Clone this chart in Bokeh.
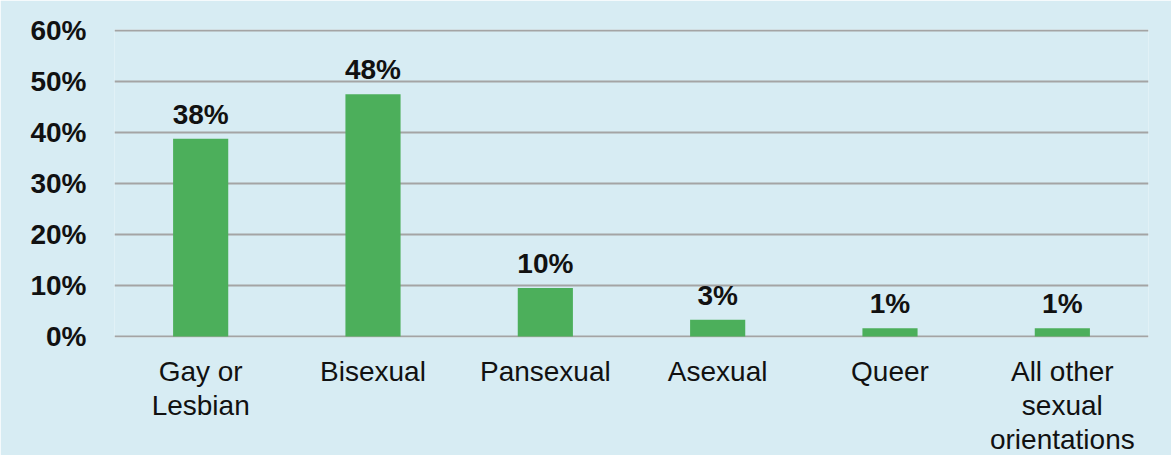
from bokeh.plotting import figure
from bokeh.models import FixedTicker, PrintfTickFormatter, LabelSet, ColumnDataSource, Range1d
from bokeh.core.properties import value
from bokeh.embed import file_html
from bokeh.resources import INLINE

categories = ["Gay or\nLesbian", "Bisexual", "Pansexual", "Asexual", "Queer", "All other\nsexual\norientations"]
values = [38.8, 47.5, 9.5, 3.3, 1.6, 1.6]
value_labels = ["38%", "48%", "10%", "3%", "1%", "1%"]
y_ticks = [0, 10, 20, 30, 40, 50, 60]

BG = "#d7ecf3"
GREEN = "#4caf5b"
GRID = "#a4a4a4"
FONT = "Liberation Sans"

src = ColumnDataSource(dict(cat=categories, val=values, lab=value_labels))

p = figure(x_range=categories, y_range=Range1d(-0.2, 60.2),
           frame_width=1034, frame_height=308,
           min_border_left=114, min_border_right=23, min_border_top=29, min_border_bottom=100,
           output_backend="svg", toolbar_location=None)

p.background_fill_color = BG
p.border_fill_color = BG
p.outline_line_color = None

p.vbar(x="cat", top="val", width=0.32, source=src, fill_color=GREEN, line_color=None)

labels = LabelSet(x="cat", y="val", text="lab", source=src, y_offset=15,
                  text_align="center", text_baseline="alphabetic",
                  text_font=value(FONT), text_font_size=value("28px"), text_font_style="bold",
                  text_color="#111111")
p.add_layout(labels)

p.xgrid.grid_line_color = None
p.ygrid.grid_line_color = GRID
p.ygrid.grid_line_width = 2
p.ygrid.ticker = FixedTicker(ticks=y_ticks)

p.yaxis.ticker = FixedTicker(ticks=y_ticks)
p.yaxis.formatter = PrintfTickFormatter(format="%d%%")
p.yaxis.axis_line_color = None
p.yaxis.major_tick_line_color = None
p.yaxis.minor_tick_line_color = None
p.yaxis.major_tick_out = 0
p.yaxis.major_label_standoff = 28
p.yaxis.major_label_text_font = FONT
p.yaxis.major_label_text_font_size = "28px"
p.yaxis.major_label_text_font_style = "bold"
p.yaxis.major_label_text_color = "#111111"

p.xaxis.axis_line_color = None
p.xaxis.major_tick_line_color = None
p.xaxis.major_tick_out = 0
p.xaxis.major_label_standoff = 18
p.xaxis.major_label_text_font = FONT
p.xaxis.major_label_text_font_size = "28px"
p.xaxis.major_label_text_color = "#111111"
p.xaxis.major_label_text_line_height = 1.1

open("out.html", "w").write(file_html(p, INLINE))
